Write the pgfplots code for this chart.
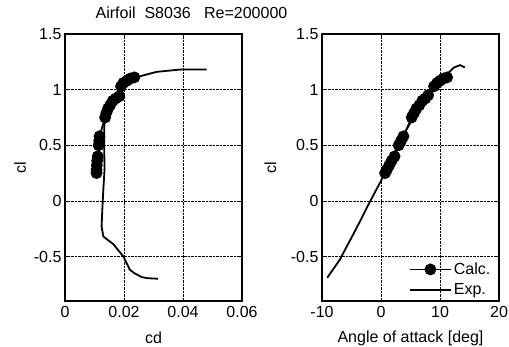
\documentclass[border=0pt]{standalone}
\usepackage{fontspec}
\setmainfont{Liberation Sans}
\usepackage{pgfplots}
\pgfplotsset{compat=1.18}
\begin{document}
\fontsize{16bp}{19bp}\selectfont
\begin{tikzpicture}
\useasboundingbox (-65bp,-46bp) rectangle (444bp,301bp);
\pgfplotsset{
  myax/.style={
    scale only axis, width=177bp, height=267bp,
    ymin=-0.9, ymax=1.5,
    ytick={-0.5,0,0.5,1,1.5}, yticklabels={-0.5,0,0.5,1,1.5},
    scaled x ticks=false, scaled y ticks=false,
    grid=major, grid style={densely dotted, black, line width=0.5pt},
    axis line style={line width=1.2pt},
    tick align=inside, major tick length=3bp,
    tick style={black, line width=0.6pt},
    ticklabel style={font=\fontsize{16bp}{19bp}\selectfont},
    label style={font=\fontsize{16bp}{19bp}\selectfont},
    yticklabel style={xshift=2bp},
    /pgf/number format/assume math mode=true,
    ylabel={cl},
    every axis x label/.style={at={(axis description cs:0.5,-0.139)}, anchor=center},
  },
}
\begin{axis}[myax, at={(0bp,0bp)}, anchor=south west,
  xmin=0, xmax=0.06, xtick={0,0.02,0.04,0.06}, xticklabels={0,0.02,0.04,0.06},
  xlabel={cd},
  every axis y label/.style={at={(axis description cs:-0.254,0.5)}, rotate=90, anchor=center},
]
\addplot[black, line width=1.8bp, mark=*, mark size=5bp, mark options={fill=black}] coordinates {
(0.0107,0.25) (0.0107,0.28) (0.0108,0.32) (0.0109,0.36) (0.0111,0.40)
(0.0114,0.50) (0.0116,0.54) (0.0117,0.58)
(0.0136,0.75) (0.0140,0.79) (0.0146,0.83) (0.0153,0.86) (0.0162,0.90) (0.0172,0.92) (0.0184,0.94)
(0.0190,1.03) (0.0198,1.06) (0.0210,1.08) (0.0222,1.10) (0.0235,1.11)
};
\addplot[black, line width=1.8bp, no marks] coordinates {
(0.0316,-0.70) (0.0280,-0.695) (0.0260,-0.685) (0.0235,-0.65) (0.0220,-0.62)
(0.0198,-0.50) (0.0164,-0.39) (0.0130,-0.32) (0.0124,-0.23) (0.0127,-0.05)
(0.0131,0.15) (0.0134,0.28) (0.0133,0.46) (0.0133,0.67) (0.0141,0.82)
(0.0164,0.94) (0.0198,1.03) (0.0254,1.12) (0.0311,1.16) (0.0390,1.18) (0.0480,1.18)
};
\end{axis}
\begin{axis}[myax, at={(257bp,0bp)}, anchor=south west,
  xmin=-10, xmax=20, xtick={-10,0,10,20}, xticklabels={-10,0,10,20},
  xlabel={Angle of attack [deg]},
  every axis y label/.style={at={(axis description cs:-0.292,0.5)}, rotate=90, anchor=center},
  legend style={draw=none, fill=none, at={(axis description cs:0.98,0.0)}, anchor=south east,
    font=\fontsize{16bp}{19bp}\selectfont, row sep=3bp},
  legend cell align=left,
  legend image code/.code={\draw[mark repeat=2,mark phase=2,#1] plot coordinates {(0bp,0bp) (20.5bp,0bp) (41bp,0bp)};},
]
\addplot[black, line width=1.8bp, mark=*, mark size=5bp, mark options={fill=black}] coordinates {
(0.7,0.25) (1.0,0.28) (1.4,0.32) (1.8,0.36) (2.3,0.40)
(3.0,0.50) (3.4,0.54) (3.8,0.58)
(5.2,0.75) (5.6,0.79) (6.0,0.83) (6.5,0.86) (7.0,0.90) (7.5,0.92) (8.0,0.95)
(9.0,1.03) (9.5,1.06) (10.0,1.08) (10.6,1.10) (11.2,1.11)
};
\addlegendentry{Calc.}
\addplot[black, line width=1.8bp, no marks] coordinates {
(-9.1,-0.69) (-7.0,-0.53) (-5.5,-0.38) (-4.1,-0.24) (-2.0,-0.02) (0,0.18)
(2,0.39) (4,0.61) (6,0.80) (8,0.95) (9.5,1.04) (11,1.13) (12.4,1.20) (13.4,1.22) (14.2,1.20)
};
\addlegendentry{Exp.}
\end{axis}
\node[font=\fontsize{16bp}{19bp}\selectfont] at (126.5bp,288bp) {Airfoil\ \ S8036\ \ \ Re=200000};
\end{tikzpicture}
\end{document}
